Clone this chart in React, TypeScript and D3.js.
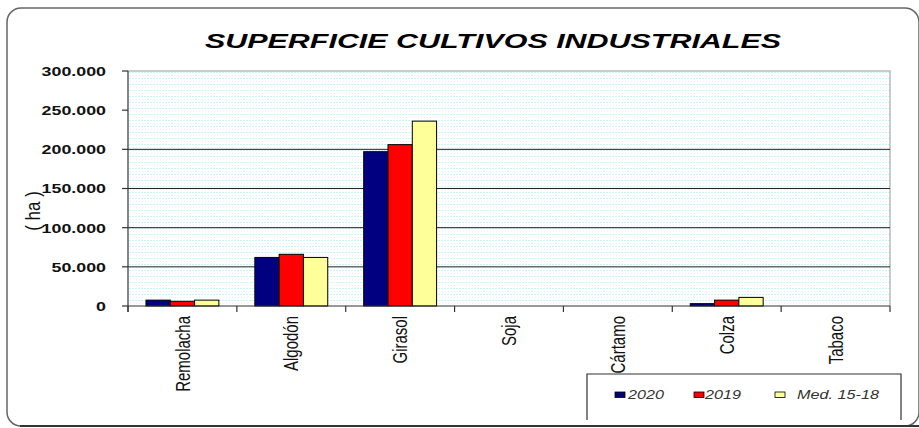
import React from "react";
import * as d3 from "d3";

const categories = ["Remolacha", "Algodón", "Girasol", "Soja", "Cártamo", "Colza", "Tabaco"];
const seriesNames = ["2020", "2019", "Med. 15-18"];
const values2020 = [7500, 62000, 197000, 0, 0, 3000, 0];
const values2019 = [6000, 66000, 206000, 0, 0, 7500, 0];
const valuesMed = [7500, 62000, 236000, 0, 0, 11000, 0];
const yTicks = [0, 50000, 100000, 150000, 200000, 250000, 300000];
const gridValues = [50000, 100000, 150000, 200000];
const colors = ["#000080", "#ff0000", "#ffff99"];

const W = 919;
const H = 428;
const plot = { left: 128, right: 890, top: 71, bottom: 306 };

const fmt = (v: number) => (v === 0 ? "0" : d3.format(",")(v).replace(/,/g, "."));

export default function App() {
  const x0 = d3.scaleBand<string>().domain(categories).range([plot.left, plot.right]).padding(0);
  const x1 = d3
    .scaleBand<string>()
    .domain(seriesNames)
    .range([0, x0.bandwidth()])
    .paddingInner(0)
    .paddingOuter(0.74);
  const y = d3.scaleLinear().domain([0, 300000]).range([plot.bottom, plot.top]);
  const series = [values2020, values2019, valuesMed];
  const font = "'Liberation Sans', Arial, sans-serif";

  const boundaries = categories.map((c) => x0(c) as number).concat([plot.right]);

  return (
    <svg width={W} height={H} style={{ position: "absolute", left: 0, top: 0 }} fontFamily={font}>
      <defs>
        <pattern id="dots" width="3" height="6" patternUnits="userSpaceOnUse">
          <rect width="3" height="6" fill="#ffffff" />
          <rect x="0" y="0" width="2" height="1" fill="#c9f4f8" />
          <rect x="1" y="3" width="1" height="1" fill="#dcf8fa" />
        </pattern>
      </defs>
      <rect x={0} y={0} width={W} height={H} fill="#fff" />
      {/* outer frame */}
      <rect x={7} y={8} width={912} height={418} rx={14} ry={14} fill="#fff" stroke="#666" strokeWidth={1.5} />
      <line x1={20} y1={426} x2={919} y2={426} stroke="#333" strokeWidth={2} />

      {/* title */}
      <text
        x={493}
        y={48}
        textAnchor="middle"
        fontSize={20}
        fontWeight="bold"
        fontStyle="italic"
        textLength={576}
        lengthAdjust="spacingAndGlyphs"
        fill="#000"
      >
        SUPERFICIE CULTIVOS INDUSTRIALES
      </text>

      {/* plot background */}
      <rect
        x={plot.left}
        y={plot.top}
        width={plot.right - plot.left}
        height={plot.bottom - plot.top}
        fill="url(#dots)"
      />
      <path
        d={`M${plot.left},${plot.top}H${plot.right}V${plot.bottom}`}
        fill="none"
        stroke="#bbb"
        strokeWidth={1.5}
      />
      {gridValues.map((v) => (
        <line key={v} x1={plot.left} x2={plot.right} y1={y(v)} y2={y(v)} stroke="#222" strokeWidth={1} />
      ))}

      {/* bars */}
      {categories.map((c, ci) => (
        <g key={c} transform={`translate(${x0(c)},0)`}>
          {seriesNames.map((s, si) => {
            const v = series[si][ci];
            if (v <= 0) return null;
            return (
              <rect
                key={s}
                x={x1(s) as number}
                y={y(v)}
                width={x1.bandwidth()}
                height={y(0) - y(v)}
                fill={colors[si]}
                stroke="#000"
                strokeWidth={1}
              />
            );
          })}
        </g>
      ))}

      {/* axes */}
      <line x1={plot.left} x2={plot.left} y1={plot.top} y2={plot.bottom + 6} stroke="#333" strokeWidth={1.2} />
      <line x1={plot.left} x2={plot.right} y1={plot.bottom} y2={plot.bottom} stroke="#333" strokeWidth={1.2} />
      {yTicks.map((t) => (
        <g key={t}>
          <line x1={plot.left - 6} x2={plot.left} y1={y(t)} y2={y(t)} stroke="#333" strokeWidth={1.2} />
          <text
            transform={`translate(106,${y(t)}) scale(1.32,1)`}
            textAnchor="end"
            dy="0.36em"
            fontSize={13.5}
            fontWeight="bold"
            fill="#111"
          >
            {fmt(t)}
          </text>
        </g>
      ))}
      {boundaries.map((b, i) => (
        <line key={i} x1={b} x2={b} y1={plot.bottom} y2={plot.bottom + 6} stroke="#333" strokeWidth={1.2} />
      ))}
      {categories.map((c) => (
        <text
          key={c}
          transform={`translate(${(x0(c) as number) + x0.bandwidth() / 2},316) scale(1.35,1) rotate(-90)`}
          textAnchor="end"
          dy="0.35em"
          fontSize={15}
          fill="#111"
        >
          {c}
        </text>
      ))}

      {/* y axis title */}
      <text
        transform={`translate(33,211) scale(1.2,1) rotate(-90)`}
        textAnchor="middle"
        dy="0.35em"
        fontSize={17}
        fill="#111"
      >
        ( ha )
      </text>

      {/* legend */}
      <path d="M587,420V374H901V420" fill="none" stroke="#333" strokeWidth={1.2} />
      {seriesNames.map((s, i) => {
        const mx = [615, 694, 775][i];
        const tx = [628, 705, 797][i];
        return (
          <g key={s}>
            <rect x={mx} y={392} width={10} height={5.5} fill={colors[i]} stroke="#000" strokeWidth={0.8} />
            <text
              transform={`translate(${tx},395) scale(1.35,1)`}
              dy="0.36em"
              fontSize={12}
              fontStyle="italic"
              fill="#333"
            >
              {s}
            </text>
          </g>
        );
      })}
    </svg>
  );
}
